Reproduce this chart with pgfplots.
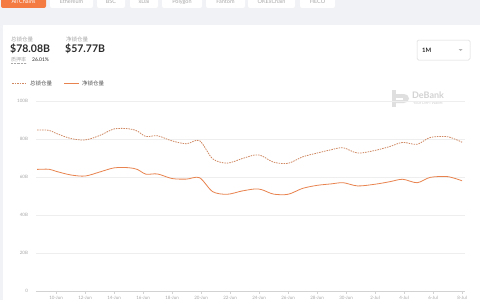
\documentclass[border=0pt]{standalone}
\usepackage{pgfplots}
\pgfplotsset{compat=1.18}
\usepackage{fontspec}
\setmainfont{Lato}
\newfontfamily\cjk{Noto Sans CJK SC}
\definecolor{bggray}{HTML}{F1F2F6}
\definecolor{taborange}{HTML}{F47B42}
\definecolor{tottvl}{HTML}{CF8862}
\definecolor{nettvl}{HTML}{E8834F}
\definecolor{gridc}{HTML}{EEEEEE}
\definecolor{lblc}{HTML}{A8A8A8}
\definecolor{darkt}{HTML}{2B2B2B}
\pgfplotstableread{
d tot net
0.08 84.7 64.0
0.88 84.6 64.1
1.38 83.0 63.0
2.38 80.3 61.1
3.38 79.5 60.5
4.38 81.8 62.6
5.38 85.3 64.8
6.38 85.4 64.9
6.98 84.2 64.0
7.58 81.3 61.5
8.38 81.7 61.6
9.38 79.0 59.2
10.38 77.5 58.9
11.28 79.1 59.6
12.18 69.6 52.3
13.18 67.3 50.9
14.18 69.6 52.6
15.08 71.6 53.7
15.58 71.1 53.3
16.38 67.8 51.0
17.38 67.2 50.9
18.38 70.6 54.0
19.38 72.6 55.6
20.38 74.4 56.4
21.18 75.4 57.0
22.18 72.6 55.3
23.38 74.0 56.2
24.38 76.0 57.5
25.28 78.2 58.8
26.28 77.2 57.0
27.18 80.8 59.8
28.38 81.2 60.2
29.38 78.3 58.0
}\tvldata
\begin{document}
\begin{tikzpicture}
\begin{scope}[x=1pt,y=1pt]
\useasboundingbox (0,0) rectangle (480,300);
\fill[bggray] (0,0) rectangle (480,300);
% tabs
\fill[taborange, rounded corners=2pt] (1,292) rectangle (46,306);
\node[white, font=\fontsize{5.5}{6}\selectfont] at (23.5,298.5) {All Chains};
\foreach \a/\b/\t in {50/93/Ethereum,97/125/BSC,130/158/xDai,162/202/Polygon,206/245/Fantom,248/295/OKExChain,300/335/HECO}{
  \fill[white, rounded corners=2pt] (\a,292) rectangle (\b,306);
  \node[lblc, font=\fontsize{5.5}{6}\selectfont] at ({(\a+\b)/2},298.5) {\t};
}
% card
\fill[white] (3,0) rectangle (480,275);
% summary
\node[anchor=west, lblc, font=\cjk\fontsize{5.5}{6}\selectfont, inner sep=0] at (11,261) {总锁仓量};
\node[anchor=west, darkt, font=\fontsize{10.5}{11}\selectfont\bfseries, inner sep=0] at (10,251.5) {\$78.08B};
\node[anchor=west, lblc, font=\cjk\fontsize{5}{6}\selectfont, inner sep=0] (zy) at (11,240) {质押率};
\draw[lblc, densely dotted, line width=0.4pt] (11,236.5) -- (zy.east|-0,236.5);
\node[anchor=west, darkt, font=\fontsize{5}{6}\selectfont, inner sep=0] at (32,240) {26.01\%};
\node[anchor=west, lblc, font=\cjk\fontsize{5.5}{6}\selectfont, inner sep=0] at (66,261) {净锁仓量};
\node[anchor=west, darkt, font=\fontsize{10.5}{11}\selectfont\bfseries, inner sep=0] at (65,251.5) {\$57.77B};
% legend
\draw[tottvl, line width=0.8pt, dash pattern=on 1.5pt off 1pt] (12,217) -- (27,217);
\node[anchor=west, darkt!80, font=\cjk\fontsize{5.5}{6}\selectfont, inner sep=0] at (30,217) {总锁仓量};
\draw[nettvl, line width=0.8pt] (64,217) -- (79,217);
\node[anchor=west, darkt!80, font=\cjk\fontsize{5.5}{6}\selectfont, inner sep=0] at (82,217) {净锁仓量};
% dropdown
\draw[gray!30, fill=white, line width=0.5pt, rounded corners=1.5pt] (417,240) rectangle (470,260);
\node[anchor=west, darkt, font=\fontsize{6}{7}\selectfont\bfseries, inner sep=0] at (422,250) {1M};
\fill[gray!60] (458.5,251) -- (462.5,251) -- (460.5,249) -- cycle;
% logo
\fill[gray!25] (392,193) rectangle (396,210);
\fill[gray!25] (396,206) -- (404,206) to[out=0,in=90] (409,201.5) to[out=-90,in=0] (404,197) -- (396,197) -- cycle;
\fill[white] (396,202.5) rectangle (403,200.5);
\node[anchor=west, gray!35, font=\fontsize{9}{10}\selectfont\bfseries, inner sep=0] at (412,205) {DeBank};
\node[anchor=west, gray!35, font=\fontsize{4}{5}\selectfont, inner sep=0] at (413,197) {Your DeFi Wallet};
\end{scope}
% chart
\begin{axis}[
  at={(36pt,9pt)}, anchor=origin, scale only axis,
  width=429pt, height=190pt,
  xmin=0, xmax=29.58, ymin=0, ymax=100,
  axis x line*=bottom, axis y line*=left,
  y axis line style={draw=none},
  x axis line style={draw=gray!35, line width=0.5pt},
  ytick={0,20,40,60,80,100},
  yticklabels={0,20B,40B,60B,80B,100B},
  ymajorgrids, grid style={gridc, line width=0.5pt},
  ytick style={draw=none},
  xtick={1.38,3.38,5.38,7.38,9.38,11.38,13.38,15.38,17.38,19.38,21.38,23.38,25.38,27.38,29.38},
  xticklabels={10-Jun,12-Jun,14-Jun,16-Jun,18-Jun,20-Jun,22-Jun,24-Jun,26-Jun,28-Jun,30-Jun,2-Jul,4-Jul,6-Jul,8-Jul},
  xtick style={draw=gray!35, line width=0.5pt},
  tick align=outside, major tick length=2.5pt,
  ticklabel style={lblc, font=\fontsize{4.5}{5}\selectfont},
  xticklabel style={yshift=1pt},
  yticklabel style={xshift=-2pt},
  clip=false,
]
\addplot[tottvl, line width=0.8pt, dash pattern=on 1.5pt off 1pt, smooth, tension=0.5] table[x=d, y=tot] {\tvldata};
\addplot[nettvl, line width=0.8pt, smooth, tension=0.5] table[x=d, y=net] {\tvldata};
\end{axis}
\end{tikzpicture}
\end{document}
